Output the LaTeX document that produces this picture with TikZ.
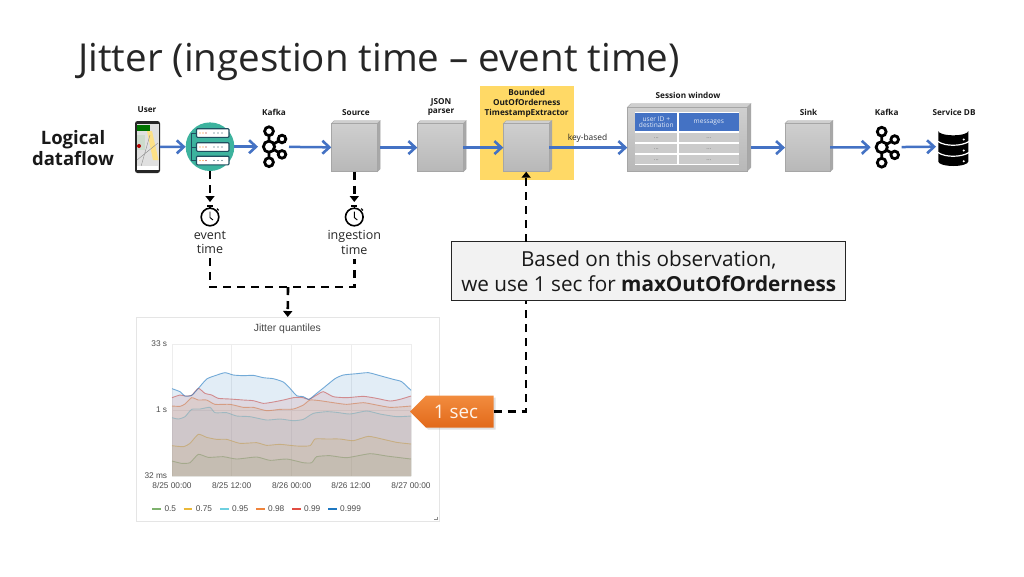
\documentclass[tikz,border=0pt]{standalone}
\usepackage{fontspec}
\setmainfont{Open Sans}
\newfontfamily\chartfont{Liberation Sans}
\usetikzlibrary{arrows.meta,shadows,calc}
\definecolor{flowblue}{HTML}{4472C4}
\definecolor{hlyellow}{HTML}{FFD966}
\definecolor{srvgreen}{HTML}{3DB39E}
\definecolor{srvnavy}{HTML}{1F4E5F}
\definecolor{cubeside}{HTML}{A8A8A8}
\definecolor{cubetop}{HTML}{CFCFCF}
\definecolor{cubeline}{HTML}{A6A6A6}
\definecolor{cellgray}{HTML}{CBCBCB}
\definecolor{gA}{HTML}{7EB26D}
\definecolor{gB}{HTML}{EAB839}
\definecolor{gC}{HTML}{6ED0E0}
\definecolor{gD}{HTML}{EF843C}
\definecolor{gE}{HTML}{E24D42}
\definecolor{gF}{HTML}{1F78C1}
\definecolor{calloutTop}{HTML}{F28C3E}
\definecolor{calloutBot}{HTML}{E2691A}
\newcommand{\fsz}[1]{\fontsize{#1}{#1}\selectfont}
\tikzset{
  x=1pt,y=-1pt,
  flow/.style={draw=flowblue,line width=2.5pt,-{Straight Barb[length=7pt,width=13pt,line width=2.6pt]}},
  dashline/.style={draw=black,line width=2.6pt,dash pattern=on 8pt off 6pt},
  dasharrow/.style={dashline,-{Triangle[length=6pt,width=9pt]}},
  lbl/.style={font=\bfseries\fsz{8.2},inner sep=0pt,align=center,text=black!90},
  txt/.style={font=\fsz{12.5},inner sep=0pt,align=center,text=black!85,text depth=0pt},
  anchorbox/.style={inner sep=0pt,outer sep=0pt},
  cubeface/.style={anchorbox,draw=cubeline,line width=.6pt,top color=cubetop,bottom color=black!28},
  axis/.style={font=\chartfont\fsz{8.3},inner sep=0pt,text=black!70},
}
% name, x1, y1, x2, y2, depth
\newcommand{\cube}[6]{%
  \fill[cubetop,draw=cubeline,line width=.4pt] (#2,#3) -- (#2+#6,#3-#6) -- (#4+#6,#3-#6) -- (#4,#3) -- cycle;
  \fill[cubeside,draw=cubeline,line width=.4pt] (#4,#3) -- (#4+#6,#3-#6) -- (#4+#6,#5-#6) -- (#4,#5) -- cycle;
  \node[cubeface,minimum width=#4pt-#2pt,minimum height=#5pt-#3pt] (#1) at ({(#2+#4)/2},{(#3+#5)/2}) {};
}
% name, x, y (hub of the logo)
\newcommand{\kafkaicon}[3]{%
  \node[anchorbox,minimum width=31pt,minimum height=30pt] (#1) at (#2+4.5,#3) {};
  \begin{scope}[shift={(#2pt,-#3pt)},draw=black,line width=2.8pt]
    \draw (0,-15) -- (0,15.5) (0,0) -- (13,-7.7) (0,0) -- (13,7.7);
    \draw[fill=white] (0,-15.5) circle[radius=4.4];
    \draw[fill=white] (0,15.5) circle[radius=4.4];
    \draw[fill=white] (13,-7.7) circle[radius=3.8];
    \draw[fill=white] (13,7.7) circle[radius=3.8];
    \draw[fill=white] (0,0) circle[radius=5.6];
  \end{scope}
}
% name, x, y
\newcommand{\clockicon}[3]{%
  \node[anchorbox,minimum width=20pt,minimum height=24pt] (#1) at (#2,#3-3) {};
  \begin{scope}[shift={(#2pt,-#3pt)},draw=black]
    \draw[line width=1.6pt,fill=white] (0,0) circle[radius=8.8];
    \draw[line width=1.6pt] (-3,-10.8) -- (3,-10.8) (0,-10.8) -- (0,-8.6);
    \draw[line width=1.2pt] (7,-8.4) -- (8.6,-6.6);
    \draw[line width=.9pt] (0,-5.5) -- (0,.5) -- (3,3);
  \end{scope}
}
% chart series: colour, points
\newcommand{\serie}[2]{%
  \draw[#1,line width=.9pt,opacity=.6] plot[smooth,tension=.35] coordinates {#2};
  \fill[#1,fill opacity=.13] plot[smooth,tension=.35] coordinates {#2} -- (843,498) -- (126,498) -- cycle;
}
\begin{document}
\begin{tikzpicture}
\useasboundingbox[fill=white] (0,0) rectangle (1024,576);

% title
\node[font=\fsz{38.5},anchor=base west,inner sep=0pt,text=black!85] (title) at (78,71.5) {Jitter (ingestion time -- event time)};
\node[font=\bfseries\fsz{18.5},align=center,inner sep=0pt,text=black!90] (logical) at (73,148) {Logical\\[2pt]dataflow};

% highlight behind the extractor
\fill[hlyellow] (479.7,86) rectangle (573.7,180);

% phone
\node[anchorbox,minimum width=25pt,minimum height=52pt,fill=black!85,rounded corners=2.5pt] (phone) at (147.5,147) {};
\fill[black!12] (136.5,123.5) rectangle (158.7,170);
\fill[green!45!black] (137,125) rectangle (150,131);
\fill[yellow!55!orange!45!white] (147,131) -- (152,131) -- (158.5,160) -- (153,160) -- cycle;
\fill[green!30!black!20] (137,135) rectangle (145,150);
\fill[red!70!black] (139,146) circle[radius=2];
\draw[black!45,line width=.4pt] (137,160) -- (158,143) (140,170) -- (150,135);
\fill[white] (137,166) rectangle (158,170);

% server
\node[anchorbox,circle,minimum size=48.6pt,fill=srvgreen] (server) at (210,146.7) {};
\draw[srvnavy,line width=1pt] (197.5,133) -- (191,133) -- (191,160.5) -- (197.5,160.5) (191,147) -- (197.5,147);
\foreach \yy in {133,147,160.5}{
  \draw[srvnavy,line width=1.1pt,fill=white,rounded corners=1pt] (196.5,\yy-4.3) rectangle (229,\yy+4.3);
  \fill[orange] (200,\yy) circle[radius=.7] (203,\yy) circle[radius=.7];
  \fill[red!60!black] (206,\yy) circle[radius=.7];
  \fill[srvnavy] (214,\yy) circle[radius=.7] (218,\yy) circle[radius=.7] (222,\yy) circle[radius=.7];
}

% kafka and processing boxes
\kafkaicon{kafkaA}{269}{146.7}
\cube{source}{331.3}{123.5}{377.3}{171.7}{2.8}
\cube{json}{417.3}{123.5}{463.3}{171.7}{2.8}
\cube{bounded}{503.3}{123.5}{549}{171.7}{2.8}
\cube{sink}{785}{123.5}{830}{171.7}{2.8}
\kafkaicon{kafkaB}{881.7}{147.2}

% session window
\cube{session}{627.3}{107.3}{747.3}{171}{3.6}
\fill[white] (635,112.3) rectangle (739,165);
\node[anchorbox,fill=flowblue,minimum width=41.7pt,minimum height=17.7pt,font=\fsz{6.6},text=white!85!flowblue,align=center] (hdA) at (656.3,122.2) {user ID +\\destination};
\node[anchorbox,fill=flowblue,minimum width=60.3pt,minimum height=17.7pt,font=\fsz{6.6},text=white!85!flowblue] (hdB) at (708.8,122.2) {messages};
\foreach \yy/\nn in {137.8/a,148.7/b,159.7/c}{
  \node[anchorbox,fill=cellgray,minimum width=41.7pt,minimum height=9.2pt,font=\fsz{6},text=black!55] (cl\nn) at (656.3,\yy) {...};
  \node[anchorbox,fill=cellgray,minimum width=60.3pt,minimum height=9.2pt,font=\fsz{6},text=black!55] (cr\nn) at (708.8,\yy) {...};
}

% database
\node[anchorbox,minimum width=33pt,minimum height=40pt] (db) at (952.5,146.5) {};
\fill[black] (938.3,131) arc[start angle=180,end angle=0,x radius=15,y radius=4.3]
  -- (968.3,161.5) arc[start angle=0,end angle=180,x radius=15,y radius=4.5] -- cycle;
\draw[white,line width=1.2pt] (938,141.5) .. controls (945,146.5) and (961,146.5) .. (969,141.5);
\draw[white,line width=1.2pt] (938,152.5) .. controls (945,157.5) and (961,157.5) .. (969,152.5);
\fill[white] (963.7,139.5) circle[radius=1.1] (963.7,150.5) circle[radius=1.1] (963.7,161.3) circle[radius=1.1];

% labels
\node[lbl] (lUser) at (147,109.5) {User};
\node[lbl] (lKafkaA) at (274,112.5) {Kafka};
\node[lbl] (lSource) at (356,112.5) {Source};
\node[lbl] (lJson) at (441,107) {JSON\\[1pt]parser};
\node[lbl] (lBounded) at (526.7,103.5) {Bounded\\[2pt]OutOfOrderness\\[2pt]TimestampExtractor};
\node[lbl] (lSession) at (688,95) {Session window};
\node[lbl] (lSink) at (808.5,112.5) {Sink};
\node[lbl] (lKafkaB) at (886.7,112.5) {Kafka};
\node[lbl] (lDb) at (954,112.5) {Service DB};
\node[font=\fsz{8.4},inner sep=0pt,text=black!85] (lKey) at (587.5,138.5) {key-based};

% flow arrows
\draw[flow] (phone) -- (server);
\draw[flow] (server) -- (kafkaA);
\draw[flow] (kafkaA) -- (source);
\draw[flow] (source.east) ++(3,0) -- (json);
\draw[flow] (json) -- (bounded);
\draw[flow] (bounded) -- (session.west |- bounded);
\draw[flow] ($(session.east |- sink)+(3.6,0)$) -- (sink);
\draw[flow] (sink) -- (kafkaB);
\draw[flow] (kafkaB) -- (db);

% clocks
\clockicon{clockA}{210}{217}
\clockicon{clockB}{354.3}{217}
\node[txt] (tEvent) at (210,242.5) {event\\[2pt]time};
\node[txt] (tIngest) at (354.3,242.5) {ingestion\\[2pt]time};
\draw[dasharrow] (server) -- (clockA);
\draw[dasharrow] (source) -- (clockB);

% chart panel
\node[anchorbox,draw=black!10,line width=.7pt,fill=white,minimum width=303pt,minimum height=204pt] (panel) at (287.7,419) {};
\begin{scope}[shift={(130pt,-310pt)},x=.33333pt,y=-.33333pt]
  \draw[black!7,line width=.5pt] (126,103) -- (843,103) (126,300) -- (843,300) (126,498) -- (843,498)
     (126,103) -- (126,498) (305,103) -- (305,498) (485,103) -- (485,498) (664,103) -- (664,498) (843,103) -- (843,498);
  \serie{gA}{(126,453) (155,460) (180,458) (205,433) (235,442) (280,440) (320,447) (380,441) (420,451) (470,447) (520,458) (545,458) (560,440) (600,437) (650,443) (720,431) (770,438) (843,447)}
  \serie{gB}{(126,407) (160,410) (180,400) (205,373) (230,382) (260,388) (290,388) (330,400) (380,398) (410,406) (450,403) (500,408) (540,407) (555,387) (590,387) (630,387) (670,392) (715,379) (760,388) (800,397) (843,402)}
  \serie{gC}{(126,323) (145,327) (165,320) (185,298) (210,297) (240,292) (255,308) (290,308) (320,318) (360,320) (410,330) (450,327) (490,332) (520,328) (550,310) (590,305) (620,307) (660,312) (710,303) (750,312) (800,320) (843,318)}
  \serie{gD}{(126,288) (150,289) (165,282) (185,263) (205,270) (230,270) (255,283) (300,283) (340,292) (370,292) (410,302) (450,298) (490,297) (520,285) (540,270) (570,272) (610,278) (650,283) (700,278) (740,285) (780,292) (820,290) (843,288)}
  \serie{gE}{(126,263) (150,255) (165,258) (185,256) (205,235) (225,250) (245,255) (265,265) (300,267) (340,270) (370,272) (400,280) (430,276) (460,270) (490,263) (515,262) (537,268) (560,255) (580,245) (610,260) (650,263) (700,259) (740,265) (780,273) (810,268) (843,258)}
  \serie{gF}{(126,236) (150,245) (165,258) (185,256) (205,235) (230,207) (255,197) (285,188) (310,195) (340,197) (370,196) (400,203) (430,206) (460,216) (480,235) (500,257) (520,260) (537,268) (560,250) (585,230) (615,206) (640,195) (680,191) (715,188) (750,197) (790,208) (815,215) (843,241)}
  \node[font=\chartfont\fsz{10.4},inner sep=0pt,text=black!72] (cTitle) at (472,57) {Jitter quantiles};
  \node[axis,anchor=east] (yA) at (112,101) {33 s};
  \node[axis,anchor=east] (yB) at (112,300) {1 s};
  \node[axis,anchor=east] (yC) at (112,496) {32 ms};
  \foreach \xx/\tl/\nn in {126/8\slash 25 00:00/a,305/8\slash 25 12:00/b,485/8\slash 26 00:00/c,663/8\slash 26 12:00/d,843/8\slash 27 00:00/e}
    \node[axis] (xt\nn) at (\xx,526) {\tl};
  \foreach \xx/\kk/\tl/\nn in {67/gA/0.5/a,161/gB/0.75/b,270/gC/0.95/c,378/gD/0.98/d,486/gE/0.99/e,594/gF/0.999/f}{
    \draw[draw=\kk,line width=1.8pt] (\xx,598) -- (\xx+26,598);
    \node[axis,anchor=west] (lg\nn) at (\xx+36,597) {\tl};
  }
  \draw[black!45,line width=.5pt] (921,620) -- (921,627) -- (913,627);
\end{scope}

% dashed connectors below the clocks
\coordinate (jA) at (210,287);
\coordinate (jB) at (354.3,287);
\coordinate (jM) at (288,287);
\draw[dashline] (tEvent.south) ++(0,4) -- (jA) -- (jB) -- ($(tIngest.south)+(0,4)$);
\draw[dasharrow] (jM) -- (panel.north);

% note
\node[anchorbox,draw=black!85,line width=1pt,fill=black!5,minimum width=394pt,minimum height=59.3pt,font=\fsz{20.7},align=center,text=black!90] (note) at (648.7,271.3)
  {Based on this observation,\\[5pt]we use 1 sec for \textbf{maxOutOfOrderness}};
\draw[dasharrow] (note.north -| bounded) -- (bounded.south);

% callout
\fill[black!30,opacity=.4] (412,413) -- (428,397.5) -- (495.5,397.5) -- (495.5,429.5) -- (428,429.5) -- cycle;
\shade[top color=calloutTop,bottom color=calloutBot] (410,411.5) -- (426,395.7) -- (493.7,395.7) -- (493.7,427.7) -- (426,427.7) -- cycle;
\node[anchorbox,minimum width=75.4pt,minimum height=32pt,font=\fsz{18.8},text=white!92!orange] (sec) at (456,411.7) {1 sec};
\draw[dashline] (sec.east) -| (note.south -| bounded);
\end{tikzpicture}
\end{document}
